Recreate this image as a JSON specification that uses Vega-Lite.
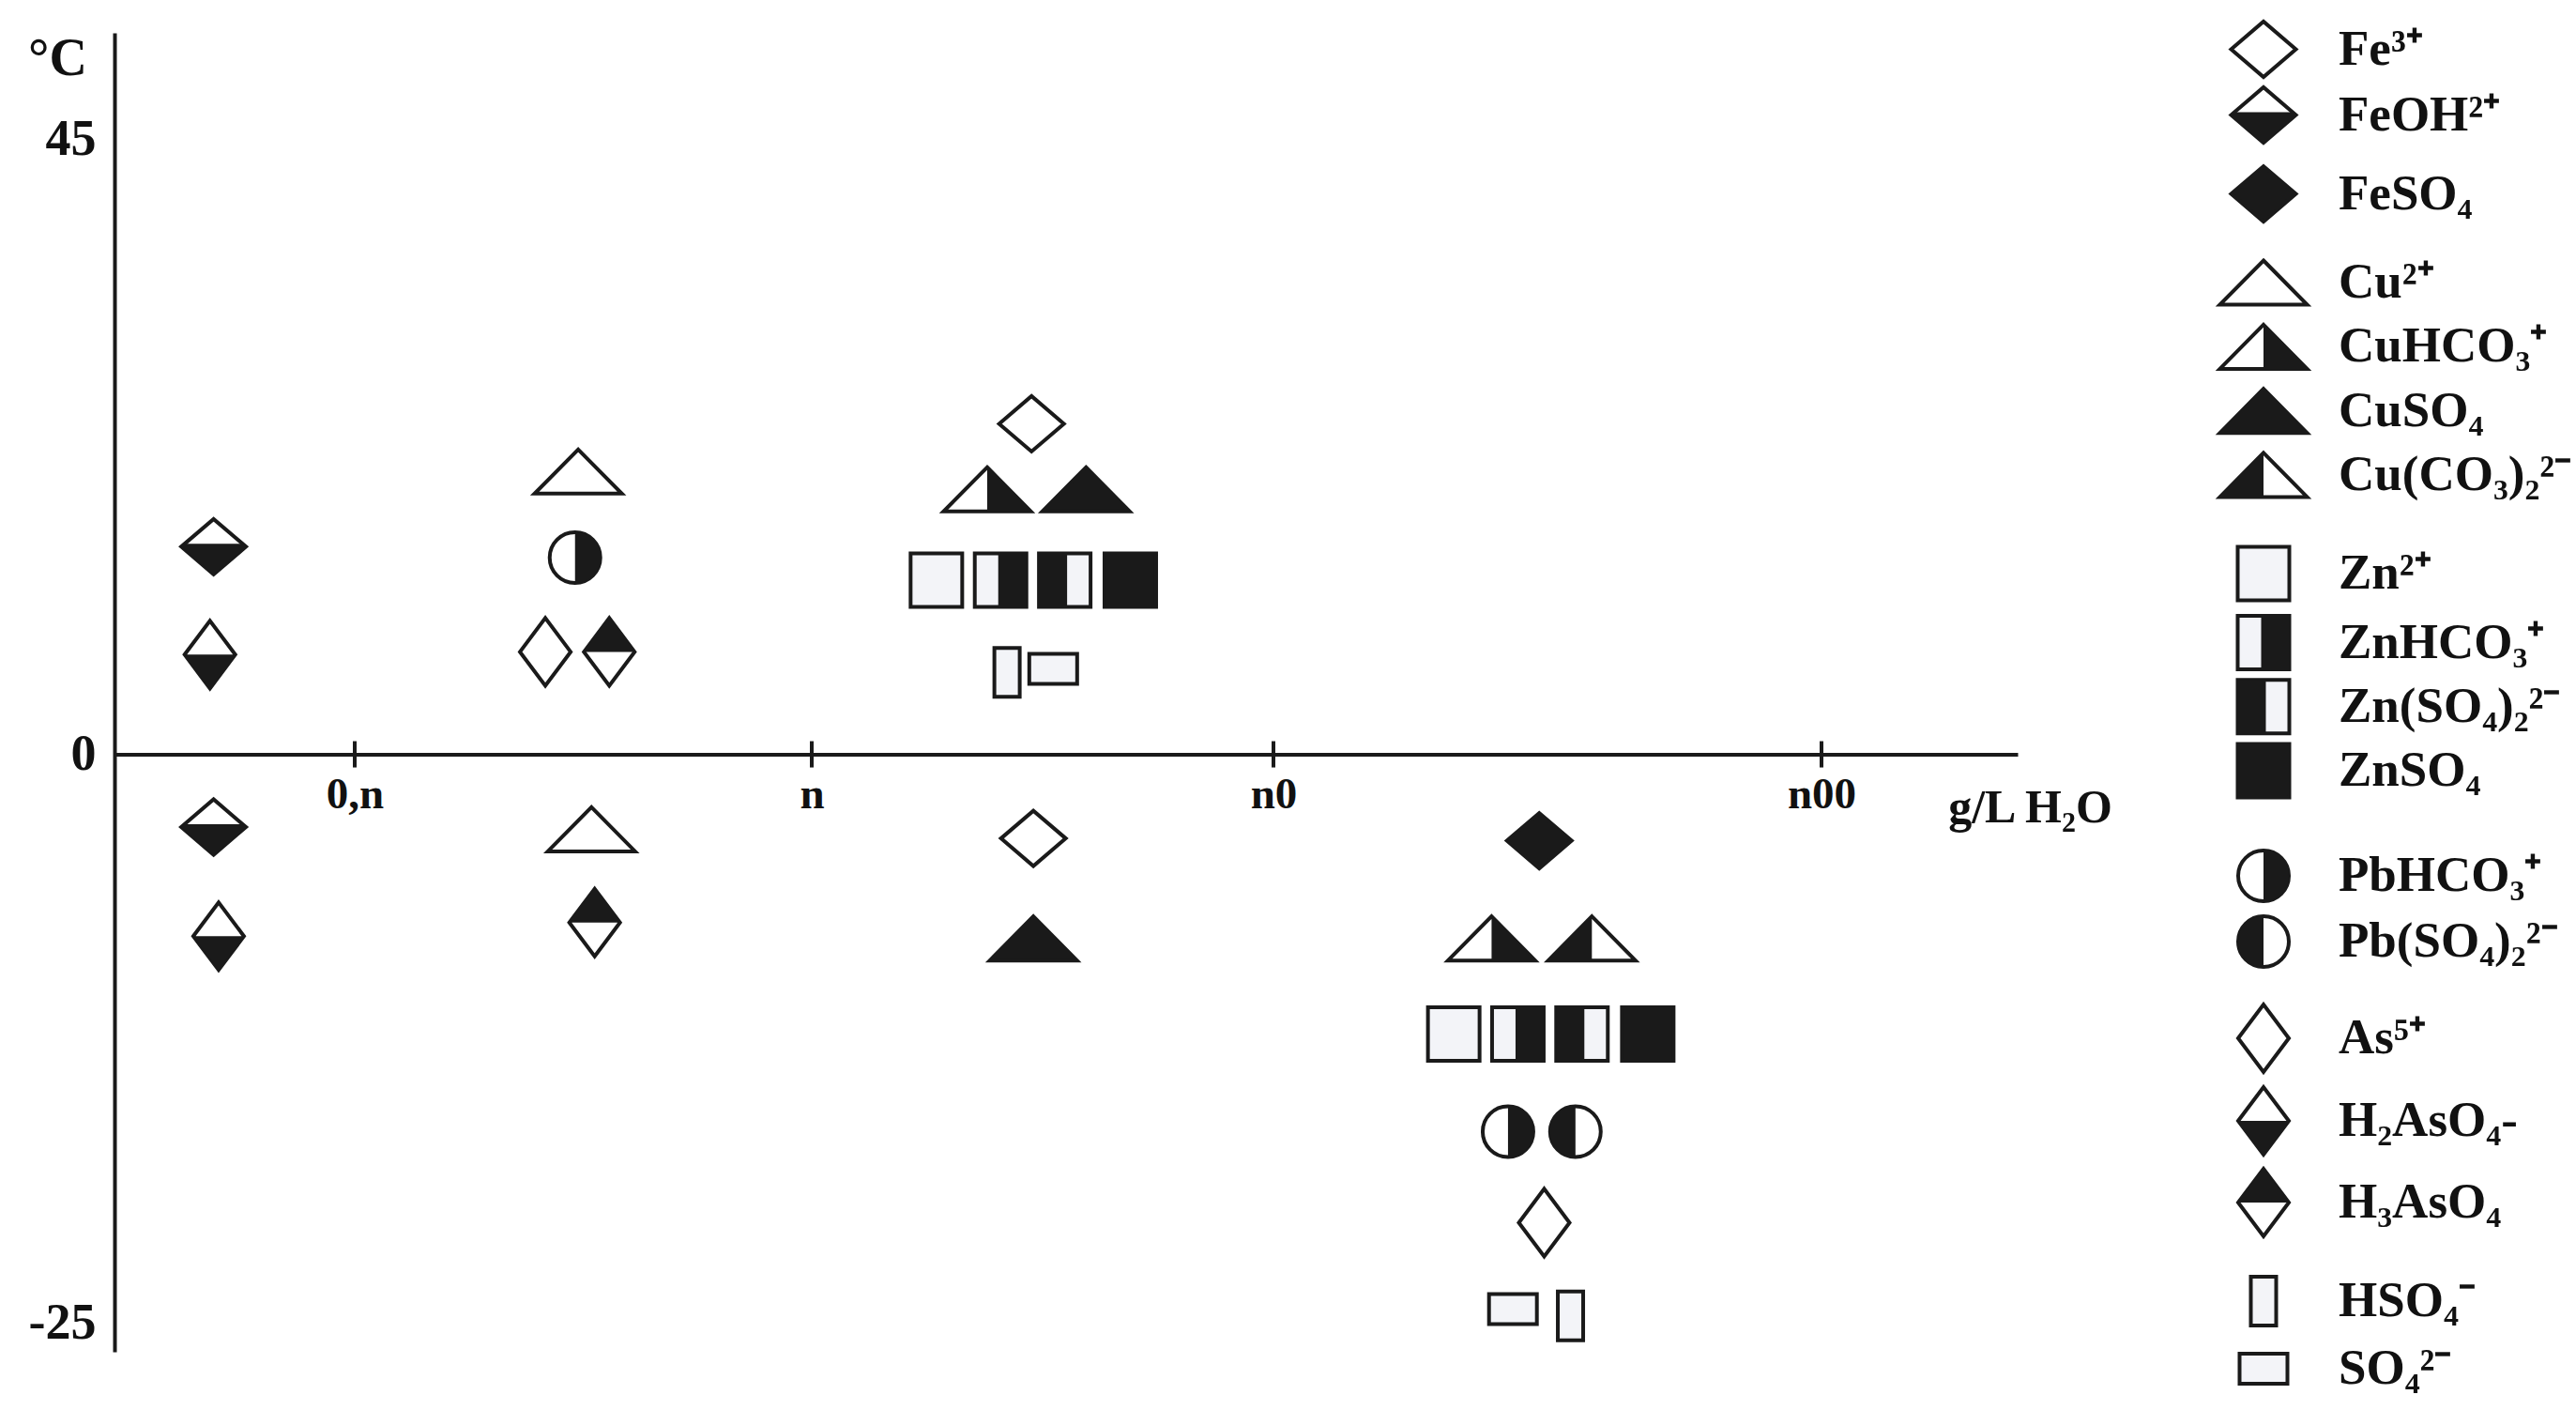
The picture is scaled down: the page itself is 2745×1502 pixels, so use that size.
{
  "$schema": "https://vega.github.io/schema/vega-lite/v6.json",
  "width": 2745,
  "height": 1502,
  "autosize": "none",
  "padding": 0,
  "background": "#ffffff",
  "config": {
    "view": {"stroke": null},
    "font": "Liberation Serif",
    "axis": {"labelFont": "Liberation Serif", "titleFont": "Liberation Serif", "labelFontWeight": "bold", "titleFontWeight": "bold", "labelColor": "#111111", "titleColor": "#111111", "grid": false}
  },
  "datasets": {
    "pts": [
      {"species": "FeOH²⁺", "x": -1.309, "t": 15.2},
      {"species": "H₂AsO₄-", "x": -1.317, "t": 7.3},
      {"species": "FeOH²⁺", "x": -1.309, "t": -3.2},
      {"species": "H₂AsO₄-", "x": -1.298, "t": -8.0},
      {"species": "Cu²⁺", "x": -0.511, "t": 20.7},
      {"species": "PbHCO₃⁺", "x": -0.518, "t": 14.4},
      {"species": "As⁵⁺", "x": -0.583, "t": 7.5},
      {"species": "H₃AsO₄", "x": -0.443, "t": 7.5},
      {"species": "Cu²⁺", "x": -0.482, "t": -3.3},
      {"species": "H₃AsO₄", "x": -0.475, "t": -7.4},
      {"species": "Fe³⁺", "x": 0.476, "t": 24.2},
      {"species": "CuHCO₃⁺", "x": 0.38, "t": 19.4},
      {"species": "CuSO₄", "x": 0.594, "t": 19.4},
      {"species": "Zn²⁺", "x": 0.27, "t": 12.75},
      {"species": "ZnHCO₃⁺", "x": 0.409, "t": 12.75},
      {"species": "Zn(SO₄)₂²⁻", "x": 0.548, "t": 12.75},
      {"species": "ZnSO₄", "x": 0.69, "t": 12.75},
      {"species": "HSO₄⁻", "x": 0.423, "t": 6.0},
      {"species": "SO₄²⁻", "x": 0.523, "t": 6.25},
      {"species": "Fe³⁺", "x": 0.48, "t": -3.7},
      {"species": "CuSO₄", "x": 0.48, "t": -8.1},
      {"species": "FeSO₄", "x": 1.485, "t": -3.8},
      {"species": "CuHCO₃⁺", "x": 1.398, "t": -8.1},
      {"species": "Cu(CO₃)₂²⁻", "x": 1.581, "t": -8.1},
      {"species": "Zn²⁺", "x": 1.329, "t": -12.3},
      {"species": "ZnHCO₃⁺", "x": 1.446, "t": -12.3},
      {"species": "Zn(SO₄)₂²⁻", "x": 1.563, "t": -12.3},
      {"species": "ZnSO₄", "x": 1.683, "t": -12.3},
      {"species": "PbHCO₃⁺", "x": 1.428, "t": -16.6},
      {"species": "Pb(SO₄)₂²⁻", "x": 1.551, "t": -16.6},
      {"species": "As⁵⁺", "x": 1.494, "t": -20.6},
      {"species": "SO₄²⁻", "x": 1.437, "t": -24.4},
      {"species": "HSO₄⁻", "x": 1.542, "t": -24.7}
    ],
    "ticks": [{"x": -1}, {"x": 0}, {"x": 1}, {"x": 2}],
    "leg": [
      {"species": "Fe³⁺", "k": 1},
      {"species": "FeOH²⁺", "k": 2},
      {"species": "FeSO₄", "k": 3},
      {"species": "Cu²⁺", "k": 4},
      {"species": "CuHCO₃⁺", "k": 5},
      {"species": "CuSO₄", "k": 6},
      {"species": "Cu(CO₃)₂²⁻", "k": 7},
      {"species": "Zn²⁺", "k": 8},
      {"species": "ZnHCO₃⁺", "k": 9},
      {"species": "Zn(SO₄)₂²⁻", "k": 10},
      {"species": "ZnSO₄", "k": 11},
      {"species": "PbHCO₃⁺", "k": 12},
      {"species": "Pb(SO₄)₂²⁻", "k": 13},
      {"species": "As⁵⁺", "k": 14},
      {"species": "H₂AsO₄-", "k": 15},
      {"species": "H₃AsO₄", "k": 16},
      {"species": "HSO₄⁻", "k": 17},
      {"species": "SO₄²⁻", "k": 18}
    ]
  },
  "layer": [
    {
      "layer": [
        {
          "data": {"name": "ticks"},
          "mark": {"type": "rule", "stroke": "#1a1a1a", "strokeWidth": 4},
          "encoding": {
            "x": {"field": "x", "type": "quantitative"},
            "y": {"datum": -0.58, "type": "quantitative"},
            "y2": {"datum": 0.96}
          }
        },
        {
          "data": {"name": "pts"},
          "mark": {"type": "point", "filled": true, "size": 2500, "stroke": "#1a1a1a", "strokeWidth": 4, "opacity": 1},
          "encoding": {
            "x": {
              "field": "x", "type": "quantitative",
              "scale": {"domain": [-1.526, -1, 0, 1, 2, 2.358], "range": [122, 378, 865, 1357, 1941, 2150], "nice": false, "zero": false},
              "axis": {
                "orient": "bottom", "offset": -698.5, "values": [-1, 0, 1, 2],
                "labelExpr": "datum.value == -1 ? '0,n' : datum.value == 0 ? 'n' : datum.value == 1 ? 'n0' : 'n00'",
                "ticks": false, "tickSize": 0, "labelPadding": 20, "labelFontSize": 47, "labelFlush": false,
                "domainColor": "#1a1a1a", "domainWidth": 4,
                "title": "g/L H₂O", "titleFontSize": 50, "titleX": 2163, "titleY": 57, "titleAlign": "center", "titleBaseline": "middle", "titleAnchor": null
              }
            },
            "y": {
              "field": "t", "type": "quantitative",
              "scale": {"domain": [-26.28, -25, 0, 45, 52.82], "range": [1440, 1409, 803.5, 148.8, 35], "nice": false, "zero": false},
              "axis": {
                "orient": "left", "offset": -122, "values": [-25, 0, 45],
                "labelExpr": "datum.value == -25 ? '-25' : datum.value == 0 ? '0' : '45'",
                "ticks": false, "tickSize": 0, "labelPadding": 20, "labelFontSize": 54, "labelFlush": false,
                "domainColor": "#1a1a1a", "domainWidth": 4,
                "title": "°C", "titleAngle": 0, "titleFontSize": 56, "titleX": -61, "titleY": 62, "titleAlign": "center", "titleBaseline": "middle", "titleAnchor": null
              }
            },
            "shape": {
              "field": "species", "type": "nominal", "legend": null,
              "scale": {
                "domain": ["Fe³⁺", "FeOH²⁺", "FeSO₄", "Cu²⁺", "CuHCO₃⁺", "CuSO₄", "Cu(CO₃)₂²⁻", "Zn²⁺", "ZnHCO₃⁺", "Zn(SO₄)₂²⁻", "ZnSO₄", "PbHCO₃⁺", "Pb(SO₄)₂²⁻", "As⁵⁺", "H₂AsO₄-", "H₃AsO₄", "HSO₄⁻", "SO₄²⁻"],
                "range": [
                  "M-1.38,0L0,-1.18L1.38,0L0,1.18Z", "M-1.38,0L0,-1.18L1.38,0L0,1.18Z", "M-1.38,0L0,-1.18L1.38,0L0,1.18Z",
                  "M0,-0.94L1.86,0.94L-1.86,0.94Z", "M0,-0.94L1.86,0.94L-1.86,0.94Z", "M0,-0.94L1.86,0.94L-1.86,0.94Z", "M0,-0.94L1.86,0.94L-1.86,0.94Z",
                  "M-1.1,-1.14L1.1,-1.14L1.1,1.14L-1.1,1.14Z", "M-1.1,-1.14L1.1,-1.14L1.1,1.14L-1.1,1.14Z", "M-1.1,-1.14L1.1,-1.14L1.1,1.14L-1.1,1.14Z", "M-1.1,-1.14L1.1,-1.14L1.1,1.14L-1.1,1.14Z",
                  "M1.08,0A1.08,1.08,0,1,1,-1.08,0A1.08,1.08,0,1,1,1.08,0Z", "M1.08,0A1.08,1.08,0,1,1,-1.08,0A1.08,1.08,0,1,1,1.08,0Z",
                  "M-1.08,0L0,-1.44L1.08,0L0,1.44Z", "M-1.08,0L0,-1.44L1.08,0L0,1.44Z", "M-1.08,0L0,-1.44L1.08,0L0,1.44Z",
                  "M-0.54,-1.04L0.54,-1.04L0.54,1.04L-0.54,1.04Z", "M-1.02,-0.64L1.02,-0.64L1.02,0.64L-1.02,0.64Z"
                ]
              }
            },
            "fill": {
              "field": "species", "type": "nominal", "legend": null,
              "scale": {
                "domain": ["Fe³⁺", "FeOH²⁺", "FeSO₄", "Cu²⁺", "CuHCO₃⁺", "CuSO₄", "Cu(CO₃)₂²⁻", "Zn²⁺", "ZnHCO₃⁺", "Zn(SO₄)₂²⁻", "ZnSO₄", "PbHCO₃⁺", "Pb(SO₄)₂²⁻", "As⁵⁺", "H₂AsO₄-", "H₃AsO₄", "HSO₄⁻", "SO₄²⁻"],
                "range": ["#ffffff", "#ffffff", "#1a1a1a", "#ffffff", "#ffffff", "#1a1a1a", "#ffffff", "#f3f4f8", "#f3f4f8", "#f3f4f8", "#1a1a1a", "#ffffff", "#ffffff", "#ffffff", "#ffffff", "#ffffff", "#f3f4f8", "#f3f4f8"]
              }
            }
          }
        },
        {
          "data": {"name": "pts"},
          "transform": [{"filter": {"field": "species", "oneOf": ["FeOH²⁺", "CuHCO₃⁺", "Cu(CO₃)₂²⁻", "ZnHCO₃⁺", "Zn(SO₄)₂²⁻", "PbHCO₃⁺", "Pb(SO₄)₂²⁻", "H₂AsO₄-", "H₃AsO₄"]}}],
          "mark": {"type": "point", "filled": true, "size": 2500, "fill": "#1a1a1a", "strokeWidth": 0, "opacity": 1},
          "encoding": {
            "x": {"field": "x", "type": "quantitative"},
            "y": {"field": "t", "type": "quantitative"},
            "shape": {
              "field": "species", "type": "nominal", "legend": null,
              "scale": {
                "domain": ["FeOH²⁺", "CuHCO₃⁺", "Cu(CO₃)₂²⁻", "ZnHCO₃⁺", "Zn(SO₄)₂²⁻", "PbHCO₃⁺", "Pb(SO₄)₂²⁻", "H₂AsO₄-", "H₃AsO₄"],
                "range": [
                  "M-1.24,-0.12L1.24,-0.12L1.38,0L0,1.18L-1.38,0Z",
                  "M0,-0.94L1.86,0.94L0,0.94Z",
                  "M0,-0.94L0,0.94L-1.86,0.94Z",
                  "M-0.1,-1.14L1.1,-1.14L1.1,1.14L-0.1,1.14Z",
                  "M-1.1,-1.14L0.1,-1.14L0.1,1.14L-1.1,1.14Z",
                  "M0,-1.08A1.08,1.08,0,0,1,0,1.08Z",
                  "M0,-1.08A1.08,1.08,0,0,0,0,1.08Z",
                  "M-1.08,0L1.08,0L0,1.44Z",
                  "M-1.08,0L0,-1.44L1.08,0Z"
                ]
              }
            }
          }
        }
      ],
      "resolve": {"scale": {"shape": "independent"}}
    },
    {
      "layer": [
        {
          "data": {"name": "leg"},
          "mark": {"type": "point", "filled": true, "size": 2500, "stroke": "#1a1a1a", "strokeWidth": 4, "opacity": 1},
          "encoding": {
            "x": {"datum": 0, "type": "quantitative", "scale": {"domain": [0, 1], "range": [2412, 2492], "nice": false, "zero": false}, "axis": null},
            "y": {"field": "k", "type": "quantitative", "scale": {"domain": [1, 2, 3, 4, 5, 6, 7, 8, 9, 10, 11, 12, 13, 14, 15, 16, 17, 18], "range": [52.5, 122.5, 206.6, 301, 369.4, 437.7, 505.9, 611, 684.5, 752.8, 821, 933, 1003, 1106, 1194, 1281, 1386, 1458], "nice": false, "zero": false}, "axis": null},
            "shape": {
              "field": "species", "type": "nominal", "legend": null,
              "scale": {
                "domain": ["Fe³⁺", "FeOH²⁺", "FeSO₄", "Cu²⁺", "CuHCO₃⁺", "CuSO₄", "Cu(CO₃)₂²⁻", "Zn²⁺", "ZnHCO₃⁺", "Zn(SO₄)₂²⁻", "ZnSO₄", "PbHCO₃⁺", "Pb(SO₄)₂²⁻", "As⁵⁺", "H₂AsO₄-", "H₃AsO₄", "HSO₄⁻", "SO₄²⁻"],
                "range": [
                  "M-1.38,0L0,-1.18L1.38,0L0,1.18Z", "M-1.38,0L0,-1.18L1.38,0L0,1.18Z", "M-1.38,0L0,-1.18L1.38,0L0,1.18Z",
                  "M0,-0.94L1.86,0.94L-1.86,0.94Z", "M0,-0.94L1.86,0.94L-1.86,0.94Z", "M0,-0.94L1.86,0.94L-1.86,0.94Z", "M0,-0.94L1.86,0.94L-1.86,0.94Z",
                  "M-1.1,-1.14L1.1,-1.14L1.1,1.14L-1.1,1.14Z", "M-1.1,-1.14L1.1,-1.14L1.1,1.14L-1.1,1.14Z", "M-1.1,-1.14L1.1,-1.14L1.1,1.14L-1.1,1.14Z", "M-1.1,-1.14L1.1,-1.14L1.1,1.14L-1.1,1.14Z",
                  "M1.08,0A1.08,1.08,0,1,1,-1.08,0A1.08,1.08,0,1,1,1.08,0Z", "M1.08,0A1.08,1.08,0,1,1,-1.08,0A1.08,1.08,0,1,1,1.08,0Z",
                  "M-1.08,0L0,-1.44L1.08,0L0,1.44Z", "M-1.08,0L0,-1.44L1.08,0L0,1.44Z", "M-1.08,0L0,-1.44L1.08,0L0,1.44Z",
                  "M-0.54,-1.04L0.54,-1.04L0.54,1.04L-0.54,1.04Z", "M-1.02,-0.64L1.02,-0.64L1.02,0.64L-1.02,0.64Z"
                ]
              }
            },
            "fill": {
              "field": "species", "type": "nominal", "legend": null,
              "scale": {
                "domain": ["Fe³⁺", "FeOH²⁺", "FeSO₄", "Cu²⁺", "CuHCO₃⁺", "CuSO₄", "Cu(CO₃)₂²⁻", "Zn²⁺", "ZnHCO₃⁺", "Zn(SO₄)₂²⁻", "ZnSO₄", "PbHCO₃⁺", "Pb(SO₄)₂²⁻", "As⁵⁺", "H₂AsO₄-", "H₃AsO₄", "HSO₄⁻", "SO₄²⁻"],
                "range": ["#ffffff", "#ffffff", "#1a1a1a", "#ffffff", "#ffffff", "#1a1a1a", "#ffffff", "#f3f4f8", "#f3f4f8", "#f3f4f8", "#1a1a1a", "#ffffff", "#ffffff", "#ffffff", "#ffffff", "#ffffff", "#f3f4f8", "#f3f4f8"]
              }
            }
          }
        },
        {
          "data": {"name": "leg"},
          "transform": [{"filter": {"field": "species", "oneOf": ["FeOH²⁺", "CuHCO₃⁺", "Cu(CO₃)₂²⁻", "ZnHCO₃⁺", "Zn(SO₄)₂²⁻", "PbHCO₃⁺", "Pb(SO₄)₂²⁻", "H₂AsO₄-", "H₃AsO₄"]}}],
          "mark": {"type": "point", "filled": true, "size": 2500, "fill": "#1a1a1a", "strokeWidth": 0, "opacity": 1},
          "encoding": {
            "x": {"datum": 0, "type": "quantitative"},
            "y": {"field": "k", "type": "quantitative"},
            "shape": {
              "field": "species", "type": "nominal", "legend": null,
              "scale": {
                "domain": ["FeOH²⁺", "CuHCO₃⁺", "Cu(CO₃)₂²⁻", "ZnHCO₃⁺", "Zn(SO₄)₂²⁻", "PbHCO₃⁺", "Pb(SO₄)₂²⁻", "H₂AsO₄-", "H₃AsO₄"],
                "range": [
                  "M-1.24,-0.12L1.24,-0.12L1.38,0L0,1.18L-1.38,0Z",
                  "M0,-0.94L1.86,0.94L0,0.94Z",
                  "M0,-0.94L0,0.94L-1.86,0.94Z",
                  "M-0.1,-1.14L1.1,-1.14L1.1,1.14L-0.1,1.14Z",
                  "M-1.1,-1.14L0.1,-1.14L0.1,1.14L-1.1,1.14Z",
                  "M0,-1.08A1.08,1.08,0,0,1,0,1.08Z",
                  "M0,-1.08A1.08,1.08,0,0,0,0,1.08Z",
                  "M-1.08,0L1.08,0L0,1.44Z",
                  "M-1.08,0L0,-1.44L1.08,0Z"
                ]
              }
            }
          }
        },
        {
          "data": {"name": "leg"},
          "mark": {"type": "text", "align": "left", "baseline": "middle", "font": "Liberation Serif", "fontWeight": "bold", "fontSize": 53, "fill": "#111111"},
          "encoding": {
            "x": {"datum": 1, "type": "quantitative"},
            "y": {"field": "k", "type": "quantitative"},
            "text": {"field": "species"}
          }
        }
      ],
      "resolve": {"scale": {"shape": "independent"}}
    }
  ],
  "resolve": {"scale": {"x": "independent", "y": "independent", "shape": "independent", "fill": "independent"}}
}
